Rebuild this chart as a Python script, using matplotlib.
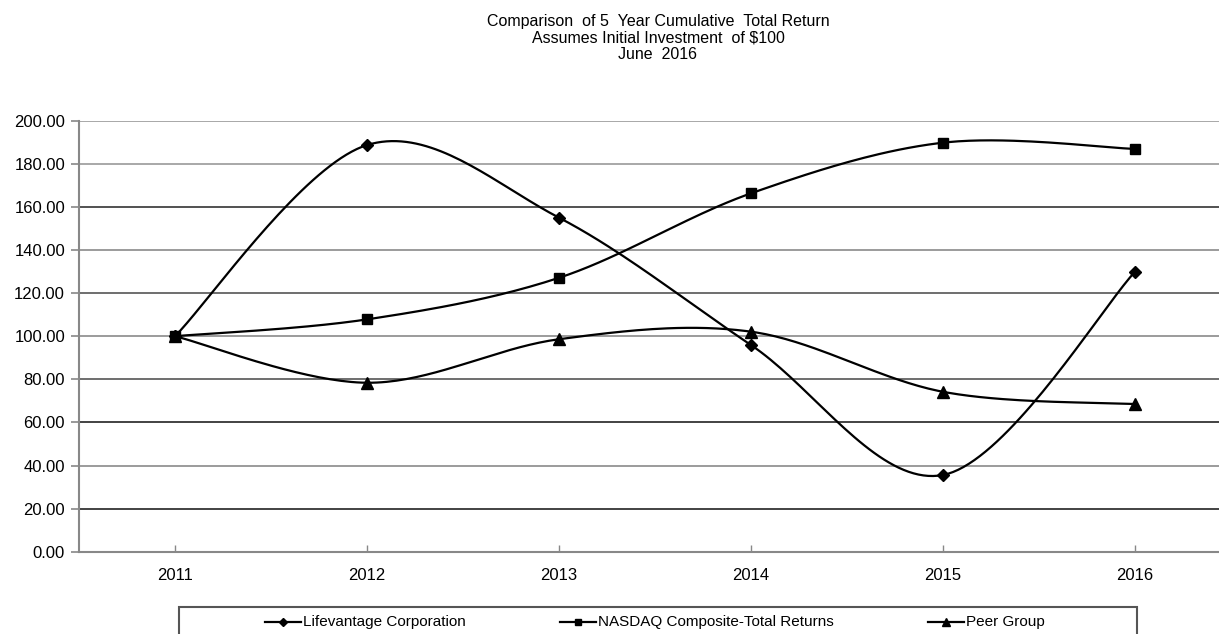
import matplotlib
matplotlib.use("Agg")
import matplotlib.pyplot as plt
from matplotlib.lines import Line2D
from matplotlib.patches import Rectangle
import numpy as np

years = ["2011", "2012", "2013", "2014", "2015", "2016"]
lifevantage = [100.0, 188.7, 155.0, 95.9, 35.6, 129.9]
nasdaq = [100.0, 107.8, 127.1, 166.3, 189.8, 186.9]
peer = [100.0, 78.4, 98.6, 102.1, 74.2, 68.5]
series_names = ["Lifevantage Corporation", "NASDAQ Composite-Total Returns", "Peer Group"]
y_ticks = [0, 20, 40, 60, 80, 100, 120, 140, 160, 180, 200]

FONT = ["Liberation Sans Narrow", "Liberation Sans", "DejaVu Sans"]
W, H = 1219, 634


def smooth(xs, ys, n=40):
    # Excel style smoothed line (Catmull-Rom -> cubic bezier)
    p = np.column_stack([xs, ys]).astype(float)
    out = [p[0]]
    for i in range(len(p) - 1):
        p0 = p[i - 1] if i > 0 else p[i]
        p1, p2 = p[i], p[i + 1]
        p3 = p[i + 2] if i + 2 < len(p) else p[i + 1]
        c1 = p1 + (p2 - p0) / 6
        c2 = p2 - (p3 - p1) / 6
        t = np.linspace(0, 1, n)[1:, None]
        seg = (1 - t) ** 3 * p1 + 3 * (1 - t) ** 2 * t * c1 + 3 * (1 - t) * t ** 2 * c2 + t ** 3 * p2
        out.extend(seg)
    out = np.array(out)
    return out[:, 0], out[:, 1]


fig = plt.figure(figsize=(W / 100, H / 100), dpi=100)
ax = fig.add_axes([79 / W, 82.3 / H, 1152 / W, 431 / H])

x = np.arange(len(years))
# gridlines (scan makes some darker than others)
grid_cols = ["#9a9a9a", "#222222", "#8a8a8a", "#222222", "#555555", "#8a8a8a",
             "#555555", "#8a8a8a", "#333333", "#9a9a9a", "#9a9a9a"]
for v, c in zip(y_ticks[1:], grid_cols[1:]):
    ax.axhline(v, color=c, lw=1.2, zorder=1)

styles = [(lifevantage, "D", 6.5), (nasdaq, "s", 7.5), (peer, "^", 8.5)]
for vals, mk, ms in styles:
    sx, sy = smooth(x, vals)
    ax.plot(sx, sy, color="black", lw=1.6, zorder=3)
    ax.plot(x, vals, ls="none", marker=mk, ms=ms, color="black", zorder=4)

ax.set_xlim(-0.5, 5.5)
ax.set_ylim(0, 200)
ax.set_yticks(y_ticks)
ax.set_yticklabels([f"{v:.2f}" for v in y_ticks], fontsize=12, family=FONT)
ax.set_xticks(x)
ax.set_xticklabels(years, fontsize=12, family=FONT)
ax.tick_params(axis="y", direction="out", length=6, width=1.2, color="#888888", pad=4)
ax.tick_params(axis="x", direction="in", length=5, width=1, color="#888888", pad=12)
for s in ["top", "right"]:
    ax.spines[s].set_visible(False)
for s in ["left", "bottom"]:
    ax.spines[s].set_color("#888888")
    ax.spines[s].set_linewidth(1.5)

# title
fig.text(658 / W, 1 - 38 / H,
         "Comparison  of 5  Year Cumulative  Total Return\nAssumes Initial Investment  of $100\nJune  2016",
         ha="center", va="center", fontsize=11.5, family=FONT, linespacing=1.15)

# legend box, cut at bottom like the reference
box_top = 1 - 606.7 / H
fig.add_artist(Rectangle((179 / W, -0.05), (1137 - 179) / W, box_top + 0.05,
                         transform=fig.transFigure, fill=False, ec="#555555", lw=1.5,
                         clip_on=False))
leg_x = [265, 560, 928]
leg_y = 1 - 622 / H
for lx, name, (_, mk, ms) in zip(leg_x, series_names, styles):
    fig.add_artist(Line2D([lx / W, (lx + 36) / W], [leg_y, leg_y], color="black", lw=1.6,
                          transform=fig.transFigure))
    fig.add_artist(Line2D([(lx + 18) / W], [leg_y], marker=mk, ms=ms * 0.65, color="black",
                          transform=fig.transFigure))
    fig.text((lx + 38) / W, leg_y, name, ha="left", va="center", fontsize=11, family=FONT)

fig.savefig("out.png", dpi=100)
